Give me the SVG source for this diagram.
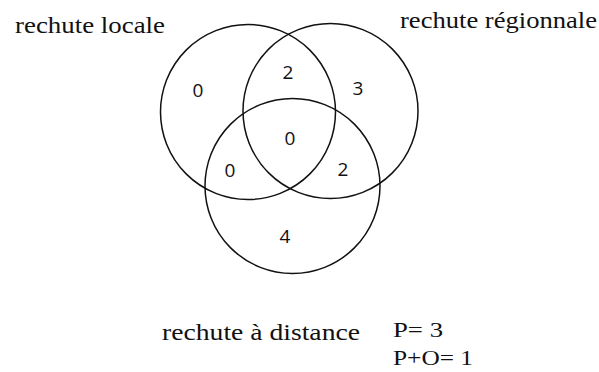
<svg xmlns="http://www.w3.org/2000/svg" width="599" height="372" viewBox="0 0 599 372">
<style>
.c{fill:none;stroke:#111;stroke-width:1.5}
.lbl{font-family:"Liberation Serif","Times New Roman",serif;font-size:23px;fill:#111}
.st{font-family:"Liberation Serif","Times New Roman",serif;font-size:20px;fill:#111}
.n{font-family:"Open Sans","Liberation Sans",sans-serif;font-size:19px;fill:#111;text-anchor:middle}
</style>
<rect width="599" height="372" fill="#fff"/>
<g id="local">
<circle class="c" cx="248" cy="112" r="87.5"/>
<text class="lbl" x="15" y="33" textLength="150" lengthAdjust="spacingAndGlyphs">rechute locale</text>
</g>
<g id="regional">
<circle class="c" cx="330.5" cy="111" r="87.5"/>
<text class="lbl" x="400" y="28" textLength="197" lengthAdjust="spacingAndGlyphs">rechute régionnale</text>
</g>
<g id="distance">
<circle class="c" cx="292.5" cy="186" r="87.5"/>
<text class="lbl" x="162" y="340" textLength="198" lengthAdjust="spacingAndGlyphs">rechute à distance</text>
</g>
<g id="counts">
<text class="n" x="198" y="97">0</text>
<text class="n" x="288" y="79">2</text>
<text class="n" x="358" y="95">3</text>
<text class="n" x="290" y="145">0</text>
<text class="n" x="230" y="177">0</text>
<text class="n" x="343" y="176">2</text>
<text class="n" x="285" y="243">4</text>
</g>
<g id="stats">
<text class="st" x="393" y="337" textLength="50" lengthAdjust="spacingAndGlyphs">P= 3</text>
<text class="st" x="393" y="365" textLength="80" lengthAdjust="spacingAndGlyphs">P+O= 1</text>
</g>
</svg>
